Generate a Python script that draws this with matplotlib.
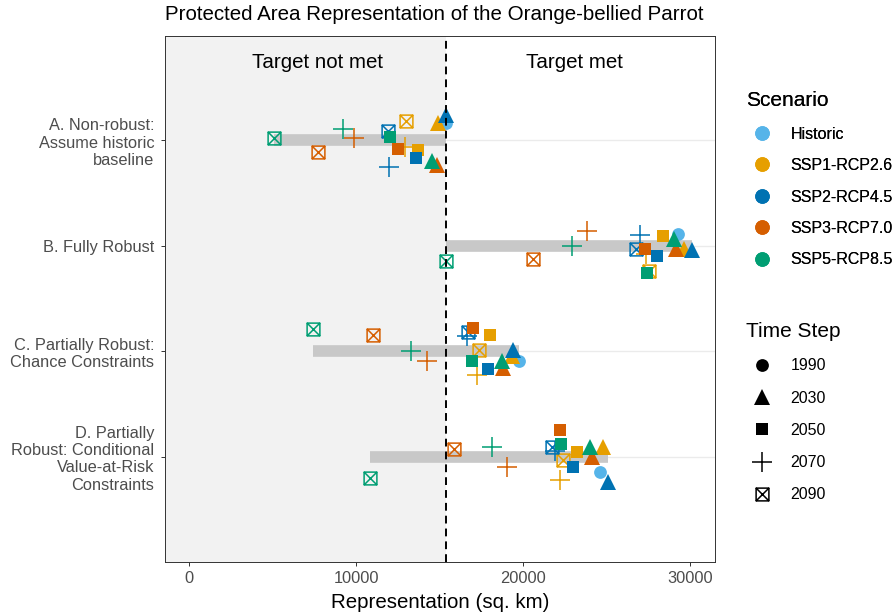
import numpy as np
import matplotlib.pyplot as plt
from matplotlib.path import Path
from matplotlib.lines import Line2D

plt.rcParams['font.family'] = ['Liberation Sans', 'DejaVu Sans']

# Data
objectives = ["A. Non-robust:\nAssume historic\nbaseline",
              "B. Fully Robust",
              "C. Partially Robust:\nChance Constraints",
              "D. Partially\nRobust: Conditional\nValue-at-Risk\nConstraints"]
scenarios = ["Historic", "SSP1-RCP2.6", "SSP2-RCP4.5", "SSP3-RCP7.0", "SSP5-RCP8.5"]
colors = ["#56B4E9", "#E69F00", "#0072B2", "#D55E00", "#009E73"]
years = [1990, 2030, 2050, 2070, 2090]
target = 15390

# historic run (1990), one per objective
historic = [15390, 29280, 19760, 24610]
historic_jitter = [0.16, 0.11, -0.09, -0.15]

# future runs: rows SSP1, SSP2, SSP3, SSP5 ; columns 2030, 2050, 2070, 2090
rep_a = [[14910, 13710, 12930, 12990],
         [15390, 13590, 11980, 11920],
         [14850, 12510, 9880, 7725],
         [14550, 12040, 9220, 5090]]
rep_b = [[29640, 28380, 27370, 27550],
         [30120, 28020, 27010, 26770],
         [29160, 27300, 23830, 20600],
         [29040, 27420, 22930, 15390]]
rep_c = [[19340, 18020, 17250, 17370],
         [19400, 17900, 16650, 16710],
         [18800, 17010, 14250, 11020],
         [18740, 16950, 13290, 7425]]
rep_d = [[24790, 23230, 22220, 22400],
         [25090, 22990, 21920, 21740],
         [24130, 22220, 19040, 15870],
         [24010, 22280, 18140, 10840]]

# vertical jitter of each point (fraction of a row)
jit_a = [[0.16, -0.09, -0.06, 0.18],
         [0.24, -0.17, -0.25, 0.09],
         [-0.23, -0.08, 0.02, -0.11],
         [-0.20, 0.03, 0.11, 0.02]]
jit_b = [[-0.03, 0.09, -0.08, -0.24],
         [-0.04, -0.10, 0.10, -0.03],
         [-0.03, -0.03, 0.14, -0.13],
         [0.06, -0.26, 0.0, -0.14]]
jit_c = [[-0.05, 0.15, -0.23, 0.01],
         [0.01, -0.17, 0.14, 0.18],
         [-0.16, 0.22, -0.09, 0.15],
         [-0.09, -0.09, 0.0, 0.21]]
jit_d = [[0.09, 0.04, -0.22, -0.03],
         [-0.24, -0.10, 0.05, 0.09],
         [0.0, 0.25, -0.10, 0.07],
         [0.09, 0.12, 0.09, -0.20]]

reps = [rep_a, rep_b, rep_c, rep_d]
jits = [jit_a, jit_b, jit_c, jit_d]

# square with a cross (ggplot shape 7)
box_x = Path([(-1, -1), (1, -1), (1, 1), (-1, 1), (-1, -1), (-1, -1), (1, 1), (-1, 1), (1, -1)],
             [Path.MOVETO, Path.LINETO, Path.LINETO, Path.LINETO, Path.CLOSEPOLY,
              Path.MOVETO, Path.LINETO, Path.MOVETO, Path.LINETO])
shapes = {1990: ('o', 9.2), 2030: ('^', 11.5), 2050: ('s', 9.2), 2070: ('+', 14), 2090: (box_x, 9.2)}


def draw_point(ax, x, y, color, year, scale=1.0):
    m, ms = shapes[year]
    if year in (2070, 2090):
        ax.plot(x, y, linestyle='none', marker=m, markersize=ms * scale, markerfacecolor='none',
                markeredgecolor=color, markeredgewidth=1.1, zorder=4)
    else:
        ax.plot(x, y, linestyle='none', marker=m, markersize=ms * scale, color=color,
                markeredgewidth=0, zorder=4)


fig = plt.figure(figsize=(8.96, 6.13), dpi=100)
ax = fig.add_axes([0.1842, 0.0832, 0.6138, 0.8581])

xmin, xmax = -1440, 31500
ax.set_xlim(xmin, xmax)
ax.set_ylim(0.0, 4.99)

n = len(objectives)
ypos = [n - i for i in range(n)]

# grid, target region and threshold
for y in ypos:
    ax.axhline(y, color='#EBEBEB', lw=1.0, zorder=0)
ax.axvspan(xmin, target, color='#F2F2F2', lw=0, zorder=0.5)
ax.axvline(target, color='black', lw=1.4, linestyle=(0, (4, 2.6)), zorder=5)

for i, y in enumerate(ypos):
    vals = np.array(reps[i])
    lo = min(vals.min(), historic[i])
    hi = max(vals.max(), historic[i])
    ax.plot([lo, hi], [y, y], color='#C8C8C8', lw=8.4, solid_capstyle='butt', zorder=1)

    draw_point(ax, historic[i], y + historic_jitter[i], colors[0], 1990)
    for s in range(4):
        for k, yr in enumerate(years[1:]):
            draw_point(ax, reps[i][s][k], y + jits[i][s][k], colors[s + 1], yr)

ax.text(target / 2, 4.74, "Target not met", ha='center', va='center', fontsize=14.8)
ax.text((target + 30800) / 2, 4.74, "Target met", ha='center', va='center', fontsize=14.8)

ax.set_yticks(ypos)
ax.set_yticklabels(objectives, ha='right', multialignment='right')
ax.set_xticks([0, 10000, 20000, 30000])
ax.tick_params(axis='both', length=2.8, width=0.7, color='#333333', labelcolor='#4D4D4D',
               labelsize=11.8)
ax.tick_params(axis='x', pad=4.0)
ax.tick_params(axis='y', pad=5.0)
for sp in ax.spines.values():
    sp.set_color('#333333')
    sp.set_linewidth(0.7)
ax.set_xlabel("Representation (sq. km)", fontsize=14.8, labelpad=5)

fig.text(165 / 896, 1 - 14 / 613, "Protected Area Representation of the Orange-bellied Parrot",
         ha='left', va='center', fontsize=14.8)

# legends
sc_handles = [Line2D([], [], linestyle='none', marker='o', markersize=10.5, color=c, markeredgewidth=0)
              for c in colors]
leg1 = fig.legend(sc_handles, scenarios, loc='upper left', bbox_to_anchor=(735 / 896, 1 - 80 / 613),
                  frameon=False, title="Scenario", title_fontsize=15, fontsize=11.5,
                  labelspacing=1.03, handletextpad=0.78, alignment='left', borderpad=0.2)
fig.add_artist(leg1)

ts_handles = []
for yr in years:
    m, ms = shapes[yr]
    if yr in (2070, 2090):
        ts_handles.append(Line2D([], [], linestyle='none', marker=m, markersize=ms,
                                 markerfacecolor='none', markeredgecolor='black', markeredgewidth=1.1))
    else:
        ts_handles.append(Line2D([], [], linestyle='none', marker=m, markersize=ms,
                                 color='black', markeredgewidth=0))
fig.legend(ts_handles, [str(y) for y in years], loc='upper left', bbox_to_anchor=(735 / 896, 1 - 311 / 613),
           frameon=False, title="Time Step", title_fontsize=15, fontsize=11.5,
           labelspacing=1.08, handletextpad=0.78, alignment='left', borderpad=0.2)

fig.savefig("out.png", dpi=100)
